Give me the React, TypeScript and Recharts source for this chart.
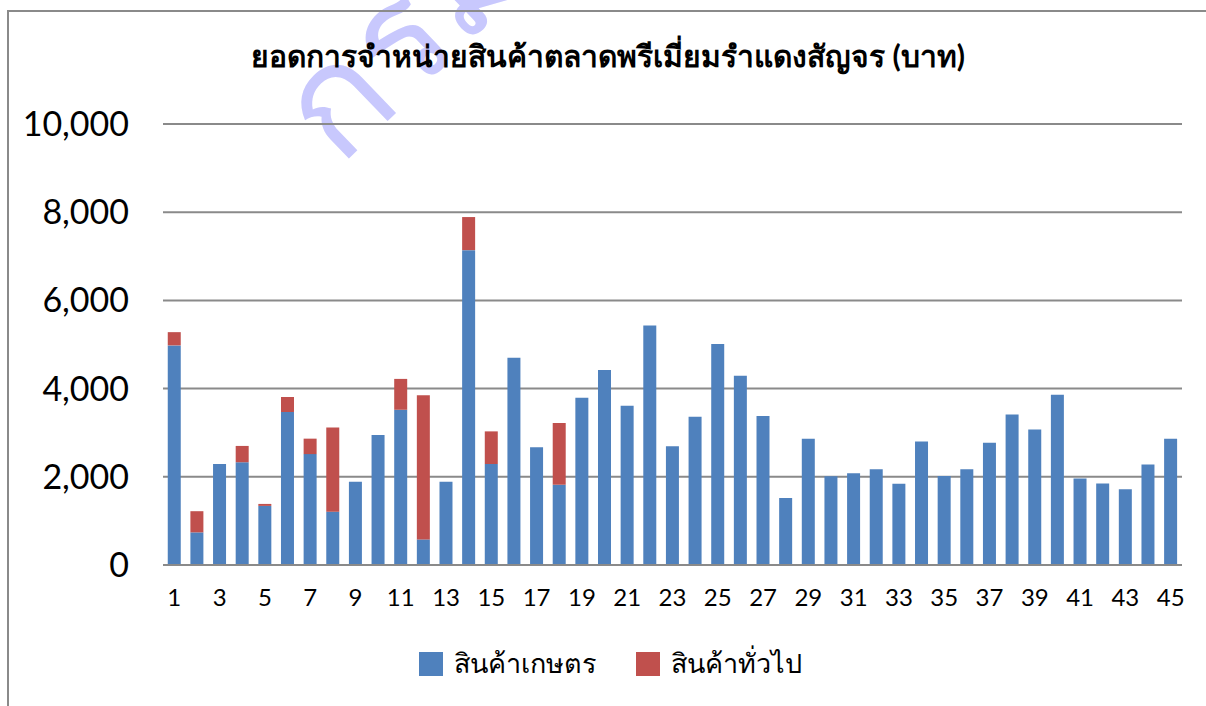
import React from 'react';
import { BarChart, Bar, XAxis, YAxis, CartesianGrid, Legend } from 'recharts';

const categories = ['1','2','3','4','5','6','7','8','9','10','11','12','13','14','15','16','17','18','19','20','21','22','23','24','25','26','27','28','29','30','31','32','33','34','35','36','37','38','39','40','41','42','43','44','45'];
const agriValues = [4980, 740, 2290, 2330, 1340, 3470, 2515, 1210, 1890, 2950, 3520, 580, 1890, 7140, 2290, 4700, 2670, 1820, 3790, 4420, 3610, 5430, 2690, 3360, 5010, 4290, 3380, 1520, 2860, 2010, 2080, 2170, 1840, 2800, 2020, 2170, 2770, 3410, 3070, 3860, 1960, 1850, 1720, 2280, 2860];
const generalValues = [300, 480, 0, 370, 45, 340, 350, 1910, 0, 0, 700, 3270, 0, 750, 740, 0, 0, 1400, 0, 0, 0, 0, 0, 0, 0, 0, 0, 0, 0, 0, 0, 0, 0, 0, 0, 0, 0, 0, 0, 0, 0, 0, 0, 0, 0];
const yTicks = [0, 2000, 4000, 6000, 8000, 10000];
const seriesNames = ['สินค้าเกษตร', 'สินค้าทั่วไป'];
const title = 'ยอดการจำหน่ายสินค้าตลาดพรีเมี่ยมรำแดงสัญจร (บาท)';
const watermark = 'กรมส่งเสริมการเกษตร';

const data = categories.map((c, i) => ({ name: c, agri: agriValues[i], general: generalValues[i] }));

const BLUE = '#4F81BD';
const RED = '#C0504D';
const FONT = 'Lato, "Noto Sans", sans-serif';

const renderLegend = (props: any) => {
  const payload = [...(props.payload || [])].sort(
    (a: any, b: any) => seriesNames.indexOf(a.value) - seriesNames.indexOf(b.value)
  );
  return (
    <div style={{ display: 'flex', justifyContent: 'center', alignItems: 'center', fontFamily: FONT }}>
      {payload.map((p: any, i: number) => (
        <div key={i} style={{ display: 'flex', alignItems: 'center', marginLeft: i === 0 ? 0 : 39 }}>
          <div style={{ width: 24, height: 24, background: p.color, marginRight: 11 }} />
          <span style={{ fontSize: 27, color: '#000' }}>{p.value}</span>
        </div>
      ))}
    </div>
  );
};

export default function App() {
  return (
    <div style={{ position: 'absolute', left: 0, top: 0, width: 1206, height: 706, background: '#fff', overflow: 'hidden' }}>
      <div style={{ position: 'absolute', left: 247, top: 72, transformOrigin: '0 0', transform: 'rotate(-44deg)', fontFamily: FONT, fontSize: 150, color: '#c8c8fd', whiteSpace: 'nowrap', pointerEvents: 'none', lineHeight: 1 }}>
        {watermark}
      </div>
      <div style={{ position: 'absolute', left: 7, top: 10, width: 1210, height: 710, borderLeft: '2px solid #8a8a8a', borderTop: '2px solid #8a8a8a', boxSizing: 'border-box' }} />
      <div style={{ position: 'absolute', left: 0, top: 33, width: 1216, textAlign: 'center', fontFamily: FONT, fontWeight: 'bold', fontSize: 30, color: '#000' }}>
        {title}
      </div>
      <div style={{ position: 'absolute', left: 0, top: 0 }}>
        <BarChart width={1206} height={706} data={data} margin={{ top: 124, right: 24, left: 0, bottom: 48 }} barCategoryGap="21%">
          <CartesianGrid vertical={false} stroke="#8a8a8a" strokeWidth={2} />
          <XAxis dataKey="name" interval={1} tickLine={false} axisLine={{ stroke: '#8a8a8a', strokeWidth: 2 }} tick={{ fontSize: 24, fill: '#000', fontFamily: FONT }} tickMargin={18} height={50} />
          <YAxis ticks={yTicks} domain={[0, 10000]} width={163} tickLine={false} axisLine={false} tickSize={0} tickMargin={34} tick={{ fontSize: 34, fill: '#000', fontFamily: FONT }} tickFormatter={(v: number) => v.toLocaleString('en-US')} />
          <Legend content={renderLegend} wrapperStyle={{ position: 'absolute', top: 642, left: 0, width: 1220 }} />
          <Bar dataKey="agri" name={seriesNames[0]} stackId="a" fill={BLUE} isAnimationActive={false} />
          <Bar dataKey="general" name={seriesNames[1]} stackId="a" fill={RED} isAnimationActive={false} />
        </BarChart>
      </div>
    </div>
  );
}
